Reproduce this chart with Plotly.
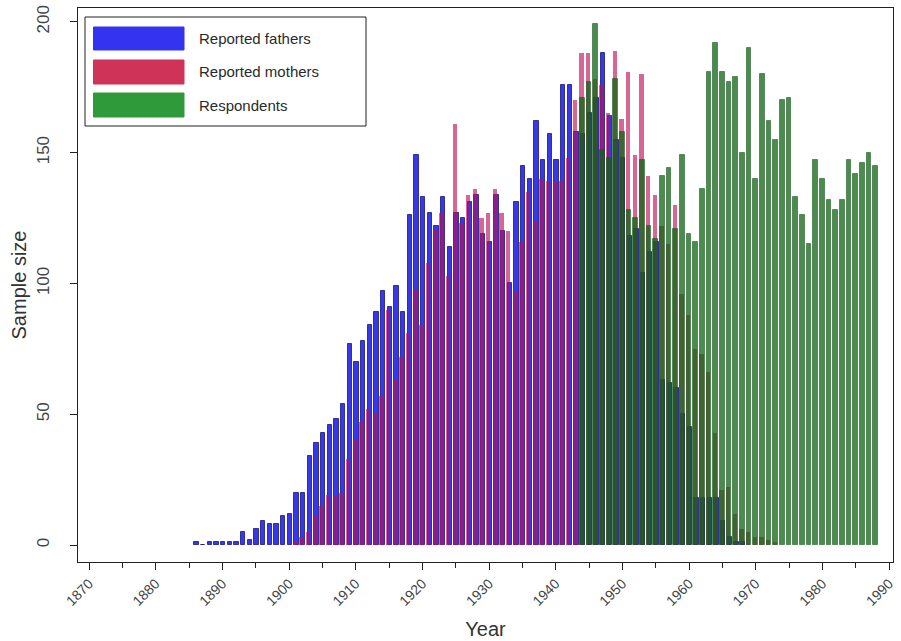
import plotly.graph_objects as go

# ---- data -------------------------------------------------------------
series_names = ["Reported fathers", "Reported mothers", "Respondents"]

fathers_years = list(range(1886, 1969))
fathers_n = [
    1, 0, 1, 1, 1, 1, 1, 5, 2, 6, 9, 8, 8, 11,              # 1886-1899
    12, 20, 20, 34, 39, 43, 46, 48, 54, 77,                 # 1900s
    70, 78, 84, 89, 97, 91, 99, 89, 126, 149,               # 1910s
    133, 127, 122, 133, 114, 127, 125, 131, 134, 119,       # 1920s
    116, 134, 120, 100, 131, 145, 140, 162, 147, 157,       # 1930s
    147, 176, 176, 158, 157, 165, 171, 188, 164, 155,       # 1940s
    148, 118, 121, 104, 112, 116, 63, 62, 60, 50,           # 1950s
    45, 18, 18, 18, 18, 9, 3, 1, 1,                         # 1960-1968
]

mothers_years = list(range(1900, 1974))
mothers_n = [
    0, 1, 3, 5, 11, 15, 19, 19, 20, 33,                     # 1900s
    40, 47, 52, 50, 57, 90, 63, 72, 81, 98,                 # 1910s
    84, 108, 121, 127, 103, 161, 123, 134, 136, 125,        # 1920s
    127, 136, 127, 120, 97, 116, 135, 124, 140, 139,        # 1930s
    139, 139, 148, 170, 188, 188, 178, 176, 165, 189,       # 1940s
    163, 181, 149, 180, 141, 134, 122, 115, 130, 96,        # 1950s
    88, 75, 73, 66, 43, 21, 22, 12, 6, 5,                   # 1960s
    3, 3, 2, 1,                                             # 1970-1973
]

resp_years = list(range(1944, 1989))
resp_n = [
    171, 177, 199, 151, 148, 178,                           # 1944-1949
    158, 128, 125, 147, 122, 117, 141, 144, 121, 149,       # 1950s
    119, 116, 136, 181, 192, 181, 177, 179, 150, 190,       # 1960s
    140, 180, 162, 155, 170, 171, 133, 126, 115, 147,       # 1970s
    140, 132, 128, 132, 147, 142, 146, 150, 145,            # 1980-1988
]

x_ticks = list(range(1870, 2000, 10))
y_ticks = [0, 50, 100, 150, 200]

# ---- styling ----------------------------------------------------------
fills = ["rgba(45,45,232,0.95)", "rgba(192,12,85,0.63)", "rgba(12,102,18,0.75)"]
edges = ["rgba(30,30,140,0.85)", "rgba(160,20,70,0.0)", "rgba(25,85,30,0.55)"]
edge_w = [1, 0, 1]
swatch = ["#3434f0", "#cf3358", "#2f9a3a"]
FONT = "Liberation Sans, Arial, sans-serif"

W, H = 901, 641
ML, MR, MT, MB = 78, 8, 8, 79

fig = go.Figure()
# (years, counts, bar width, left-edge offset from the year)
specs = [
    (fathers_years, fathers_n, 0.66, -0.21),
    (mothers_years, mothers_n, 0.66, -0.45),
    (resp_years, resp_n, 0.72, -0.36),
]
for i, (xs, ys, w, off) in enumerate(specs):
    fig.add_trace(go.Bar(
        x=xs, y=ys, name=series_names[i], width=w, offset=off,
        marker=dict(color=fills[i], line=dict(color=edges[i], width=edge_w[i])),
        showlegend=False,
    ))


def px_x(px):
    return (px - ML) / (W - ML - MR)


def px_y(py):
    return (H - MB - py) / (H - MT - MB)


# legend panel drawn as shapes with text labels
shapes = [dict(type="rect", xref="paper", yref="paper",
               x0=px_x(85), x1=px_x(366), y0=px_y(126), y1=px_y(17),
               line=dict(color="#222", width=1), fillcolor="white", layer="above")]
annotations = []
rows = [(27, 50), (60, 84), (93, 117)]
for i, (top, bot) in enumerate(rows):
    shapes.append(dict(type="rect", xref="paper", yref="paper",
                       x0=px_x(93.5), x1=px_x(184), y0=px_y(bot), y1=px_y(top),
                       line=dict(color=swatch[i], width=1), fillcolor=swatch[i],
                       layer="above"))
    annotations.append(dict(xref="paper", yref="paper", x=px_x(197), y=px_y((top + bot) / 2),
                            text=series_names[i], showarrow=False, xanchor="left",
                            yanchor="middle", font=dict(family=FONT, size=15, color="#2a2a2a")))

fig.update_layout(
    width=W, height=H,
    margin=dict(l=ML, r=MR, t=MT, b=MB),
    paper_bgcolor="white", plot_bgcolor="white",
    barmode="overlay", bargap=0,
    shapes=shapes, annotations=annotations,
    font=dict(family=FONT, color="#333"),
)
fig.update_xaxes(
    range=[1868.35, 1990.6], automargin=False,
    tickmode="array", tickvals=x_ticks, ticktext=[str(v) for v in x_ticks],
    tickangle=-45, tickfont=dict(size=14, color="#444"),
    ticks="outside", ticklen=7, tickcolor="#222",
    minor=dict(tickmode="linear", tick0=1875, dtick=10, ticks="outside", ticklen=5, tickcolor="#222"),
    showline=True, linecolor="#222", linewidth=1, mirror=True,
    showgrid=False, zeroline=False,
    title=dict(text="Year", font=dict(size=20, color="#333"), standoff=14),
)
fig.update_yaxes(
    range=[-6.5, 205.3], automargin=False,
    tickmode="array", tickvals=y_ticks, ticktext=[str(v) for v in y_ticks],
    tickangle=-90, tickfont=dict(size=17, color="#444"),
    ticks="outside", ticklen=7, tickcolor="#222", ticklabelstandoff=14,
    showline=True, linecolor="#222", linewidth=1, mirror=True,
    showgrid=False, zeroline=False,
    title=dict(text="Sample size", font=dict(size=20, color="#333"), standoff=2),
)

fig.write_html("out.html")
